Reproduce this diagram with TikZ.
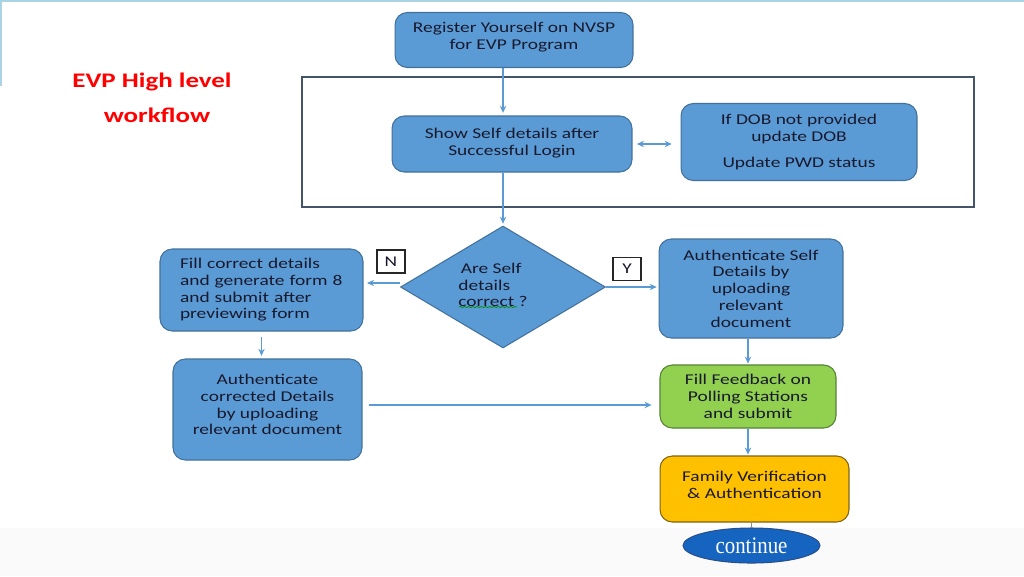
\documentclass[tikz,border=0pt]{standalone}
\usepackage{fontspec}
\setmainfont{Carlito}[FakeStretch=1.3]
\newfontfamily\contfont{Liberation Serif}[FakeStretch=0.88]
\usetikzlibrary{arrows.meta,shapes.geometric,decorations.pathmorphing}
\definecolor{boxB}{RGB}{91,155,213}
\definecolor{boxBline}{RGB}{65,113,156}
\definecolor{feedG}{RGB}{146,208,80}
\definecolor{feedGline}{RGB}{84,130,53}
\definecolor{famY}{RGB}{255,192,0}
\definecolor{famYline}{RGB}{128,100,20}
\definecolor{contB}{RGB}{21,101,192}
\definecolor{contBline}{RGB}{40,78,140}
\definecolor{frameC}{RGB}{68,84,106}
\definecolor{arrC}{RGB}{91,155,213}
\definecolor{slideC}{RGB}{170,212,228}
\definecolor{txtC}{RGB}{25,25,45}

\begin{document}
\begin{tikzpicture}[x=0.02cm, y=-0.02cm, font=\fontsize{8.5}{9.5}\selectfont,
  >={Stealth[length=4pt,width=3.6pt]},
  box/.style={draw=boxBline, fill=boxB, line width=0.6pt, rounded corners=7pt,
    text=txtC, align=center, inner sep=0pt},
  arr/.style={->, draw=arrC, line width=0.7pt},
  yn/.style={draw=black!85, line width=0.6pt, fill=white, inner sep=0pt,
    minimum width=0.56cm, minimum height=0.46cm, text=txtC}]
  \useasboundingbox (0,0) rectangle (1024,576);
  % slide background
  \fill[white] (0,0) rectangle (1024,576);
  \fill[black!2] (0,528) rectangle (1024,576);
  \draw[slideC, line width=0.8pt] (0,1) -- (1024,1);
  \draw[slideC, line width=0.8pt] (1,0) -- (1,86);
  % title
  \node[text=red, font=\fontsize{11.8}{14}\selectfont\bfseries] (ttl1) at (152,82) {EVP High level};
  \node[text=red, font=\fontsize{11.8}{14}\selectfont\bfseries] (ttl2) at (157,115) {workflow};
  % login group
  \draw[frameC, line width=0.6pt] (302,77) rectangle (974,207);
  \node[box, minimum width=4.76cm, minimum height=1.10cm] (reg) at (514,40)
    {Register Yourself on NVSP\\for EVP Program\\[-4.5pt]};
  \node[box, minimum width=4.80cm, minimum height=1.12cm] (show) at (512,144)
    {Show Self details after\\Successful Login\\[-7pt]};
  \node[box, minimum width=4.72cm, minimum height=1.54cm] (dob) at (799,142)
    {If DOB not provided\\update DOB\\[5pt]Update PWD status};
  % decision
  \node[diamond, draw=boxBline, fill=boxB, line width=0.6pt, inner sep=0pt,
    minimum width=4.1cm, minimum height=2.44cm] (dia) at (503,287) {};
  \node[align=left, text=txtC] (diatxt) at (493,285) {\,Are Self\\details\\correct ?};
  \draw[green!55!black, line width=0.4pt, decorate,
    decoration={snake, amplitude=0.35pt, segment length=2.4pt}] (459,307) -- (517,307);
  \node[yn] (nlab) at (391,261.5) {N};
  \node[yn] (ylab) at (627,269) {Y};
  % left branch
  \node[box, minimum width=4.06cm, minimum height=1.64cm, text width=3.26cm,
    inner xsep=0.4cm, align=left] (fill) at (261.5,290)
    {Fill correct details\\and generate form 8\\and submit after\\previewing form};
  \node[box, minimum width=3.78cm, minimum height=2.02cm] (corr) at (267.5,409.5)
    {Authenticate\\corrected Details\\by uploading\\relevant document\\[-4pt]};
  % right branch
  \node[box, minimum width=3.68cm, minimum height=1.98cm] (self) at (751,288.5)
    {Authenticate Self\\Details by\\uploading\\relevant\\document};
  \node[box, draw=feedGline, fill=feedG, minimum width=3.52cm, minimum height=1.26cm] (feed)
    at (748,396.5) {Fill Feedback on\\Polling Stations\\and submit};
  \node[box, draw=famYline, fill=famY, minimum width=3.78cm, minimum height=1.32cm] (fam)
    at (754.5,489) {Family Verification\\\& Authentication\\[-5pt]};
  \node[ellipse, draw=contBline, fill=contB, line width=0.6pt, inner sep=0pt,
    minimum width=2.74cm, minimum height=0.70cm, text=white,
    font=\contfont\fontsize{13.5}{15}\selectfont] (cont) at (751.5,545.5) {continue};
  % connectors
  \draw[arr, shorten >=1.5pt] (reg.south -| dia.north) -- (show.north -| dia.north);
  \draw[arr, shorten >=1pt] (show.south -| dia.north) -- (dia.north);
  \draw[<->, draw=arrC, line width=0.7pt, shorten <=2.5pt, shorten >=5pt]
    (show.east) -- (show.east -| dob.west);
  \draw[arr, shorten >=2pt] ([yshift=0.08cm]dia.west) -- ([yshift=0.08cm]dia.west -| fill.east);
  \draw[arr, shorten >=1pt] (dia.east) -- (dia.east -| self.west);
  \draw[arr, shorten <=3pt, shorten >=1.5pt] (fill.south) -- (fill.south |- corr.north);
  \draw[arr, shorten <=3.5pt, shorten >=4.5pt] ([yshift=0.09cm]corr.east) -- ([yshift=0.09cm]corr.east -| feed.west);
  \draw[arr, shorten >=0.5pt] (feed.north |- self.south) -- (feed.north);
  \draw[arr, shorten >=0.5pt] (feed.south) -- (feed.south |- fam.north);
  \draw[black!45, line width=0.5pt] (fam.south -| cont.north) -- (cont.north);
\end{tikzpicture}
\end{document}
